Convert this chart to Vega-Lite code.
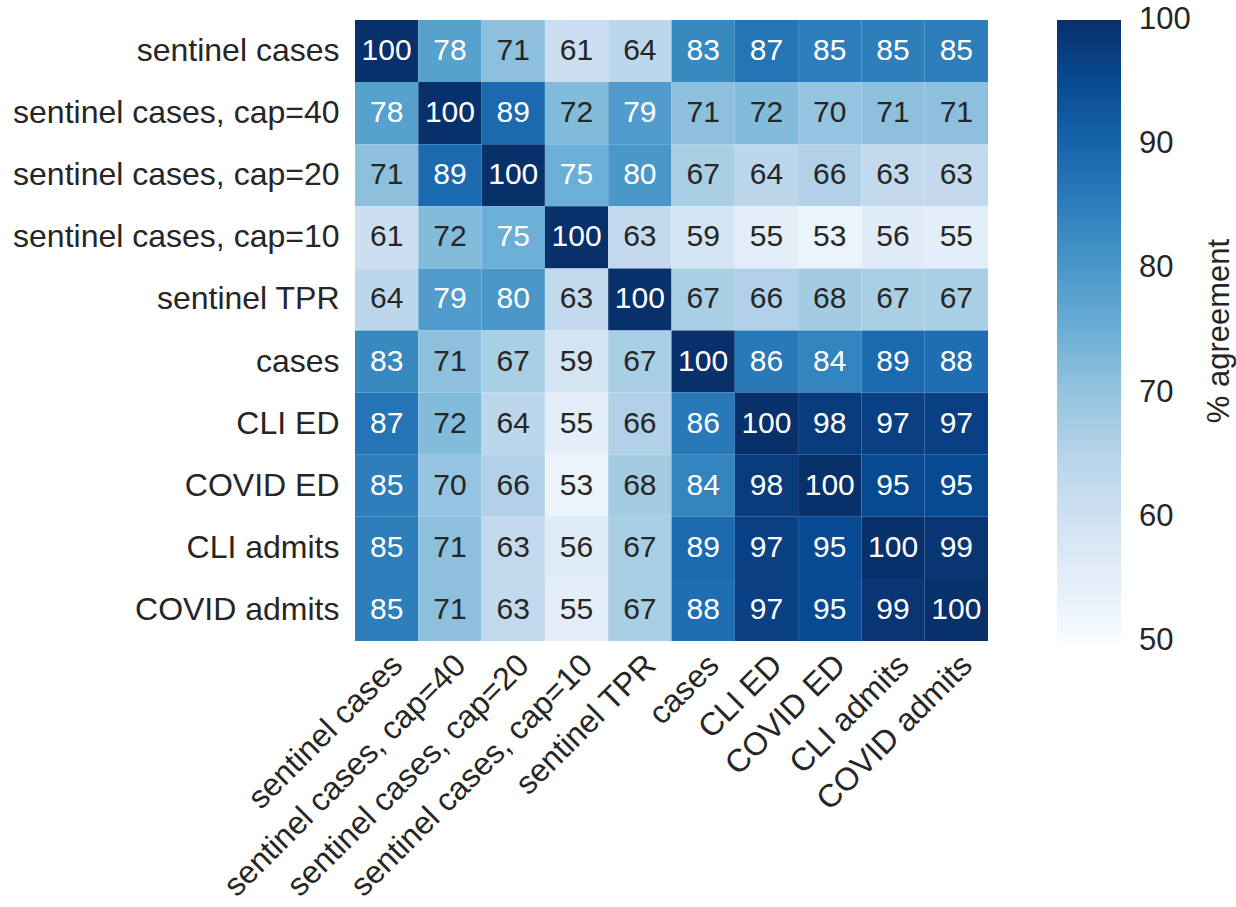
{
  "$schema": "https://vega.github.io/schema/vega-lite/v6.json",
  "width": 633,
  "height": 621,
  "padding": {"top": 20, "left": 12, "right": 5, "bottom": 5},
  "background": "white",
  "config": {
    "view": {"stroke": null},
    "font": "Liberation Sans",
    "axis": {"labelFont": "Liberation Sans", "labelFontSize": 32, "labelColor": "#262626", "domain": false, "ticks": false, "title": null, "grid": false},
    "legend": {"labelFont": "Liberation Sans", "titleFont": "Liberation Sans"}
  },
  "data": {
    "values": [
      {"row": "sentinel cases", "col": "sentinel cases", "value": 100},
      {"row": "sentinel cases", "col": "sentinel cases, cap=40", "value": 78},
      {"row": "sentinel cases", "col": "sentinel cases, cap=20", "value": 71},
      {"row": "sentinel cases", "col": "sentinel cases, cap=10", "value": 61},
      {"row": "sentinel cases", "col": "sentinel TPR", "value": 64},
      {"row": "sentinel cases", "col": "cases", "value": 83},
      {"row": "sentinel cases", "col": "CLI ED", "value": 87},
      {"row": "sentinel cases", "col": "COVID ED", "value": 85},
      {"row": "sentinel cases", "col": "CLI admits", "value": 85},
      {"row": "sentinel cases", "col": "COVID admits", "value": 85},
      {"row": "sentinel cases, cap=40", "col": "sentinel cases", "value": 78},
      {"row": "sentinel cases, cap=40", "col": "sentinel cases, cap=40", "value": 100},
      {"row": "sentinel cases, cap=40", "col": "sentinel cases, cap=20", "value": 89},
      {"row": "sentinel cases, cap=40", "col": "sentinel cases, cap=10", "value": 72},
      {"row": "sentinel cases, cap=40", "col": "sentinel TPR", "value": 79},
      {"row": "sentinel cases, cap=40", "col": "cases", "value": 71},
      {"row": "sentinel cases, cap=40", "col": "CLI ED", "value": 72},
      {"row": "sentinel cases, cap=40", "col": "COVID ED", "value": 70},
      {"row": "sentinel cases, cap=40", "col": "CLI admits", "value": 71},
      {"row": "sentinel cases, cap=40", "col": "COVID admits", "value": 71},
      {"row": "sentinel cases, cap=20", "col": "sentinel cases", "value": 71},
      {"row": "sentinel cases, cap=20", "col": "sentinel cases, cap=40", "value": 89},
      {"row": "sentinel cases, cap=20", "col": "sentinel cases, cap=20", "value": 100},
      {"row": "sentinel cases, cap=20", "col": "sentinel cases, cap=10", "value": 75},
      {"row": "sentinel cases, cap=20", "col": "sentinel TPR", "value": 80},
      {"row": "sentinel cases, cap=20", "col": "cases", "value": 67},
      {"row": "sentinel cases, cap=20", "col": "CLI ED", "value": 64},
      {"row": "sentinel cases, cap=20", "col": "COVID ED", "value": 66},
      {"row": "sentinel cases, cap=20", "col": "CLI admits", "value": 63},
      {"row": "sentinel cases, cap=20", "col": "COVID admits", "value": 63},
      {"row": "sentinel cases, cap=10", "col": "sentinel cases", "value": 61},
      {"row": "sentinel cases, cap=10", "col": "sentinel cases, cap=40", "value": 72},
      {"row": "sentinel cases, cap=10", "col": "sentinel cases, cap=20", "value": 75},
      {"row": "sentinel cases, cap=10", "col": "sentinel cases, cap=10", "value": 100},
      {"row": "sentinel cases, cap=10", "col": "sentinel TPR", "value": 63},
      {"row": "sentinel cases, cap=10", "col": "cases", "value": 59},
      {"row": "sentinel cases, cap=10", "col": "CLI ED", "value": 55},
      {"row": "sentinel cases, cap=10", "col": "COVID ED", "value": 53},
      {"row": "sentinel cases, cap=10", "col": "CLI admits", "value": 56},
      {"row": "sentinel cases, cap=10", "col": "COVID admits", "value": 55},
      {"row": "sentinel TPR", "col": "sentinel cases", "value": 64},
      {"row": "sentinel TPR", "col": "sentinel cases, cap=40", "value": 79},
      {"row": "sentinel TPR", "col": "sentinel cases, cap=20", "value": 80},
      {"row": "sentinel TPR", "col": "sentinel cases, cap=10", "value": 63},
      {"row": "sentinel TPR", "col": "sentinel TPR", "value": 100},
      {"row": "sentinel TPR", "col": "cases", "value": 67},
      {"row": "sentinel TPR", "col": "CLI ED", "value": 66},
      {"row": "sentinel TPR", "col": "COVID ED", "value": 68},
      {"row": "sentinel TPR", "col": "CLI admits", "value": 67},
      {"row": "sentinel TPR", "col": "COVID admits", "value": 67},
      {"row": "cases", "col": "sentinel cases", "value": 83},
      {"row": "cases", "col": "sentinel cases, cap=40", "value": 71},
      {"row": "cases", "col": "sentinel cases, cap=20", "value": 67},
      {"row": "cases", "col": "sentinel cases, cap=10", "value": 59},
      {"row": "cases", "col": "sentinel TPR", "value": 67},
      {"row": "cases", "col": "cases", "value": 100},
      {"row": "cases", "col": "CLI ED", "value": 86},
      {"row": "cases", "col": "COVID ED", "value": 84},
      {"row": "cases", "col": "CLI admits", "value": 89},
      {"row": "cases", "col": "COVID admits", "value": 88},
      {"row": "CLI ED", "col": "sentinel cases", "value": 87},
      {"row": "CLI ED", "col": "sentinel cases, cap=40", "value": 72},
      {"row": "CLI ED", "col": "sentinel cases, cap=20", "value": 64},
      {"row": "CLI ED", "col": "sentinel cases, cap=10", "value": 55},
      {"row": "CLI ED", "col": "sentinel TPR", "value": 66},
      {"row": "CLI ED", "col": "cases", "value": 86},
      {"row": "CLI ED", "col": "CLI ED", "value": 100},
      {"row": "CLI ED", "col": "COVID ED", "value": 98},
      {"row": "CLI ED", "col": "CLI admits", "value": 97},
      {"row": "CLI ED", "col": "COVID admits", "value": 97},
      {"row": "COVID ED", "col": "sentinel cases", "value": 85},
      {"row": "COVID ED", "col": "sentinel cases, cap=40", "value": 70},
      {"row": "COVID ED", "col": "sentinel cases, cap=20", "value": 66},
      {"row": "COVID ED", "col": "sentinel cases, cap=10", "value": 53},
      {"row": "COVID ED", "col": "sentinel TPR", "value": 68},
      {"row": "COVID ED", "col": "cases", "value": 84},
      {"row": "COVID ED", "col": "CLI ED", "value": 98},
      {"row": "COVID ED", "col": "COVID ED", "value": 100},
      {"row": "COVID ED", "col": "CLI admits", "value": 95},
      {"row": "COVID ED", "col": "COVID admits", "value": 95},
      {"row": "CLI admits", "col": "sentinel cases", "value": 85},
      {"row": "CLI admits", "col": "sentinel cases, cap=40", "value": 71},
      {"row": "CLI admits", "col": "sentinel cases, cap=20", "value": 63},
      {"row": "CLI admits", "col": "sentinel cases, cap=10", "value": 56},
      {"row": "CLI admits", "col": "sentinel TPR", "value": 67},
      {"row": "CLI admits", "col": "cases", "value": 89},
      {"row": "CLI admits", "col": "CLI ED", "value": 97},
      {"row": "CLI admits", "col": "COVID ED", "value": 95},
      {"row": "CLI admits", "col": "CLI admits", "value": 100},
      {"row": "CLI admits", "col": "COVID admits", "value": 99},
      {"row": "COVID admits", "col": "sentinel cases", "value": 85},
      {"row": "COVID admits", "col": "sentinel cases, cap=40", "value": 71},
      {"row": "COVID admits", "col": "sentinel cases, cap=20", "value": 63},
      {"row": "COVID admits", "col": "sentinel cases, cap=10", "value": 55},
      {"row": "COVID admits", "col": "sentinel TPR", "value": 67},
      {"row": "COVID admits", "col": "cases", "value": 88},
      {"row": "COVID admits", "col": "CLI ED", "value": 97},
      {"row": "COVID admits", "col": "COVID ED", "value": 95},
      {"row": "COVID admits", "col": "CLI admits", "value": 99},
      {"row": "COVID admits", "col": "COVID admits", "value": 100}
    ]
  },
  "encoding": {
    "x": {
      "field": "col", "type": "nominal",
      "sort": ["sentinel cases", "sentinel cases, cap=40", "sentinel cases, cap=20", "sentinel cases, cap=10", "sentinel TPR", "cases", "CLI ED", "COVID ED", "CLI admits", "COVID admits"],
      "axis": {"orient": "bottom", "labelAngle": -45, "labelAlign": "right", "labelBaseline": "top", "labelPadding": 8, "labelLimit": 500}
    },
    "y": {
      "field": "row", "type": "nominal",
      "sort": ["sentinel cases", "sentinel cases, cap=40", "sentinel cases, cap=20", "sentinel cases, cap=10", "sentinel TPR", "cases", "CLI ED", "COVID ED", "CLI admits", "COVID admits"],
      "axis": {"labelPadding": 16, "labelLimit": 500}
    }
  },
  "layer": [
    {
      "mark": {"type": "rect"},
      "encoding": {
        "color": {
          "field": "value", "type": "quantitative",
          "scale": {
            "domain": [50, 56.25, 62.5, 68.75, 75, 81.25, 87.5, 93.75, 100],
            "range": ["#f7fbff", "#deebf7", "#c6dbef", "#9ecae1", "#6baed6", "#4292c6", "#2171b5", "#08519c", "#08306b"],
            "interpolate": "rgb"
          },
          "legend": {
            "title": "% agreement",
            "values": [50, 60, 70, 80, 90, 100],
            "gradientLength": 621,
            "gradientThickness": 64,
            "gradientStrokeWidth": 0,
            "offset": 69,
            "labelFontSize": 31,
            "labelColor": "#262626",
            "labelOffset": 18,
            "labelBaseline": "middle",
            "labelOverlap": false,
            "titleFontSize": 31,
            "titleFontWeight": "normal",
            "titleColor": "#262626",
            "titleOrient": "right",
            "titleAnchor": "middle",
            "titlePadding": 14,
            "titleLimit": 600,
            "encode": {
              "labels": {"update": {"baseline": {"value": "middle"}}},
              "title": {"update": {"angle": {"value": -90}, "baseline": {"value": "top"}}}
            }
          }
        }
      }
    },
    {
      "mark": {"type": "text", "fontSize": 30, "font": "Liberation Sans"},
      "encoding": {
        "text": {"field": "value", "type": "quantitative"},
        "color": {
          "condition": {"test": "datum.value >= 74", "value": "white"},
          "value": "#262626"
        }
      }
    }
  ]
}
